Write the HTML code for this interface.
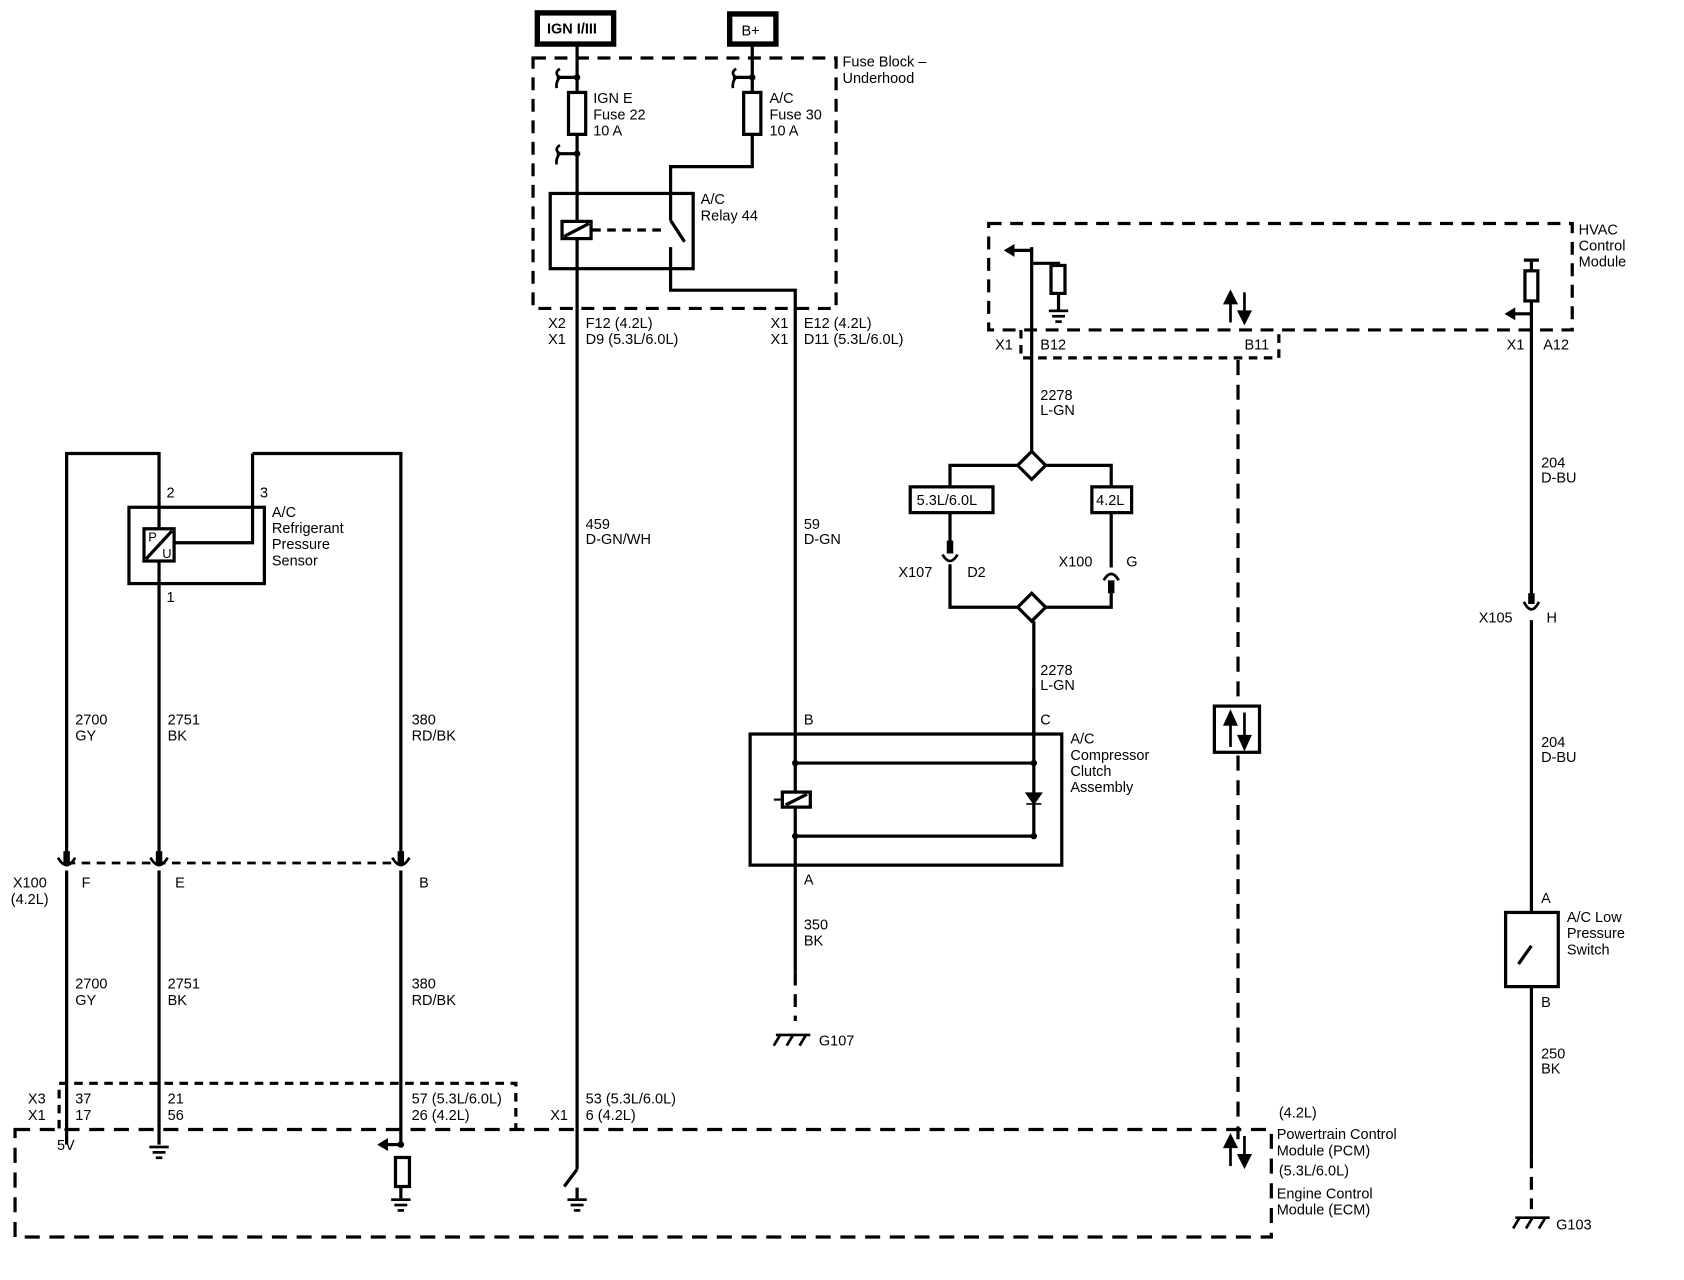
<!DOCTYPE html>
<html><head><meta charset="utf-8"><style>
html,body{margin:0;padding:0;background:#fff;}
svg{display:block}
text{font-family:"Liberation Sans",Arial,sans-serif;font-size:13.5px;fill:#000;}
</style></head><body>
<svg width="1684" height="1280" viewBox="0 0 1567 1191" preserveAspectRatio="none" xmlns="http://www.w3.org/2000/svg">
<g fill="none" stroke="#000" stroke-width="3">
<rect x="500" y="12" width="71" height="29" stroke-width="5"/>
<rect x="679" y="13" width="43" height="28" stroke-width="5"/>
<rect x="496" y="54" width="282" height="233" stroke-dasharray="12,8"/>
<line x1="537" y1="41" x2="537" y2="1088"/>
<rect x="529" y="86" width="16" height="39" fill="#fff"/>
<path d="M518 72H537M518 143H537" />
<path d="M521 64q-6 4 0 8q-4 4 -3 10M521 135q-6 4 0 8q-4 4 -3 10" stroke-width="2.5"/>
<path d="M700 41V155H624V205"/>
<rect x="692" y="86" width="16" height="39" fill="#fff"/>
<path d="M682 72H700"/>
<path d="M685 64q-6 4 0 8q-4 4 -3 10" stroke-width="2.5"/>
<rect x="512" y="180" width="133" height="70"/>
<rect x="523" y="206" width="27" height="16" fill="#fff"/>
<line x1="525" y1="220" x2="548" y2="208"/>
<line x1="551" y1="214" x2="620" y2="214" stroke-dasharray="8,6"/>
<line x1="624" y1="205" x2="637" y2="225"/>
<path d="M624 230V270H740V905"/>
<line x1="740" y1="905" x2="740" y2="950" stroke-dasharray="12,8"/>
<rect x="698" y="683" width="290" height="122"/>
<path d="M740 710H962M962 640V778H740"/>
<rect x="728" y="737" width="26" height="14" fill="#fff"/>
<line x1="731" y1="749" x2="751" y2="739"/>
<line x1="720" y1="744" x2="727" y2="744" stroke-width="2"/>
<path d="M955 748H969M955 738H969L962 748Z" fill="#000" stroke-width="1.5"/>
<rect x="920" y="208" width="543" height="99" stroke-dasharray="12,8"/>
<path d="M950 307V333H1190V307" stroke-dasharray="8,6"/>
<line x1="960" y1="230" x2="960" y2="420"/>
<path d="M960 245H985V248"/>
<rect x="978" y="247" width="13" height="26" fill="#fff"/>
<line x1="985" y1="273" x2="985" y2="288"/>
<path d="M960 233H942"/>
<line x1="1152" y1="335" x2="1152" y2="1060" stroke-dasharray="14,9"/>
<rect x="1130" y="657" width="42" height="43" fill="#fff"/>
<path d="M884 455V433H947M973 433H1034V455"/>
<path d="M960 420L973 433L960 446L947 433Z" fill="#fff"/>
<rect x="847" y="453" width="77" height="24" fill="#fff"/>
<rect x="1016" y="453" width="37" height="24" fill="#fff"/>
<path d="M884 477V510M884 525V565H947M973 565H1034V543M1034 477V528"/>
<path d="M960 552L973 565L960 578L947 565Z" fill="#fff"/>
<line x1="962" y1="578" x2="962" y2="683"/>
<path d="M1418 242H1432M1425 242V252"/>
<rect x="1419" y="252" width="12" height="28" fill="#fff"/>
<path d="M1425 280V560M1425 577V849M1425 918V1075"/>
<path d="M1425 292H1408"/>
<line x1="1425" y1="1075" x2="1425" y2="1125" stroke-dasharray="12,8"/>
<rect x="1401" y="849" width="49" height="69"/>
<line x1="1425" y1="880" x2="1413" y2="897"/>
<rect x="120" y="472" width="126" height="71"/>
<path d="M62 795V422H148V493M148 521V795M148 810V1065M62 810V1065"/>
<path d="M235 422H373V795M373 810V1065"/>
<path d="M235 422V505H162"/>
<rect x="134" y="492" width="28" height="30" fill="#fff"/>
<line x1="136" y1="520" x2="160" y2="494"/>
<line x1="62" y1="803" x2="373" y2="803" stroke-dasharray="8,6" stroke-width="2.5"/>
<rect x="14" y="1051" width="1169" height="100" stroke-dasharray="14,9"/>
<path d="M55 1050V1008H480V1050" stroke-dasharray="8,6"/>
<path d="M373 1065H360"/>
<rect x="368" y="1077" width="13" height="27" fill="#fff"/>
<path d="M373 1104V1115M537 1088L525 1104M537 1105V1115"/>
</g>
<g fill="#000" stroke="none">
<circle cx="537" cy="72" r="3"/><circle cx="537" cy="143" r="3"/><circle cx="700" cy="72" r="3"/>
<circle cx="740" cy="710" r="3"/><circle cx="962" cy="710" r="3"/><circle cx="740" cy="778" r="3"/><circle cx="962" cy="778" r="3"/>
<circle cx="373" cy="1065" r="3"/>
<path d="M934 233L944 227V239Z"/><path d="M1400 292L1410 286V298Z"/><path d="M351 1065L361 1059V1071Z"/>
<rect x="976" y="288" width="18" height="2.5"/><rect x="979" y="293" width="12" height="2.5"/><rect x="982" y="298" width="6" height="2.5"/>
<rect x="139" y="1066" width="18" height="2.5"/><rect x="142" y="1071" width="12" height="2.5"/><rect x="145" y="1076" width="6" height="2.5"/>
<rect x="364" y="1115" width="18" height="2.5"/><rect x="367" y="1120" width="12" height="2.5"/><rect x="370" y="1125" width="6" height="2.5"/>
<rect x="528" y="1115" width="18" height="2.5"/><rect x="531" y="1120" width="12" height="2.5"/><rect x="534" y="1125" width="6" height="2.5"/>
</g>
<g fill="none" stroke="#000" stroke-width="2.5">
<path d="M54 798q8 14 16 0M140 798q8 14 16 0M365 798q8 14 16 0"/>
<path d="M877 516q7 12 14 0"/><path d="M1027 540q7 -12 14 0"/>
<path d="M1418 560q7 14 14 0"/>
</g>
<g fill="#000">
<rect x="59" y="792" width="6" height="12"/><rect x="145" y="792" width="6" height="12"/><rect x="370" y="792" width="6" height="12"/>
<rect x="881" y="503" width="6" height="12"/><rect x="1031" y="540" width="6" height="12"/>
<rect x="1422" y="552" width="6" height="10"/>
</g>
<g stroke="#000" stroke-width="2.5" fill="#000">
<path d="M1145 300V278" /><path d="M1140 282L1145 272L1150 282Z"/>
<path d="M1158 272V292"/><path d="M1153 290L1158 300L1163 290Z"/>
<path d="M1145 695V670"/><path d="M1140 674L1145 663L1150 674Z"/>
<path d="M1158 663V688"/><path d="M1153 685L1158 696L1163 685Z"/>
<path d="M1145 1085V1063"/><path d="M1140 1067L1145 1057L1150 1067Z"/>
<path d="M1158 1057V1077"/><path d="M1153 1075L1158 1085L1163 1075Z"/>
</g>
<g stroke="#000" stroke-width="2.5" fill="none">
<path d="M722 963H754M726 963L720 973M738 963L732 973M750 963L744 973"/>
<path d="M1410 1133H1442M1414 1133L1408 1143M1426 1133L1420 1143M1438 1133L1432 1143"/>
</g>
<g>
<text x="509" y="31" style="font-weight:bold">IGN I/III</text>
<text x="690" y="33">B+</text>
<text x="784" y="62">Fuse Block –</text><text x="784" y="77">Underhood</text>
<text x="552" y="96">IGN E</text><text x="552" y="111">Fuse 22</text><text x="552" y="126">10 A</text>
<text x="716" y="96">A/C</text><text x="716" y="111">Fuse 30</text><text x="716" y="126">10 A</text>
<text x="652" y="190">A/C</text><text x="652" y="205">Relay 44</text>
<text x="510" y="305">X2</text><text x="510" y="320">X1</text><text x="545" y="305">F12 (4.2L)</text><text x="545" y="320">D9 (5.3L/6.0L)</text>
<text x="717" y="305">X1</text><text x="717" y="320">X1</text><text x="748" y="305">E12 (4.2L)</text><text x="748" y="320">D11 (5.3L/6.0L)</text>
<text x="545" y="492">459</text><text x="545" y="506">D-GN/WH</text>
<text x="748" y="492">59</text><text x="748" y="506">D-GN</text>
<text x="748" y="674">B</text><text x="968" y="674">C</text>
<text x="996" y="692">A/C</text><text x="996" y="707">Compressor</text><text x="996" y="722">Clutch</text><text x="996" y="737">Assembly</text>
<text x="748" y="823">A</text><text x="748" y="865">350</text><text x="748" y="880">BK</text>
<text x="762" y="973">G107</text>
<text x="1469" y="218">HVAC</text><text x="1469" y="233">Control</text><text x="1469" y="248">Module</text>
<text x="926" y="325">X1</text><text x="968" y="325">B12</text><text x="1158" y="325">B11</text>
<text x="1402" y="325">X1</text><text x="1436" y="325">A12</text>
<text x="968" y="372">2278</text><text x="968" y="386">L-GN</text>
<text x="853" y="470">5.3L/6.0L</text><text x="1020" y="470">4.2L</text>
<text x="836" y="537">X107</text><text x="900" y="537">D2</text>
<text x="985" y="527">X100</text><text x="1048" y="527">G</text>
<text x="968" y="628">2278</text><text x="968" y="642">L-GN</text>
<text x="1434" y="435">204</text><text x="1434" y="449">D-BU</text>
<text x="1376" y="579">X105</text><text x="1439" y="579">H</text>
<text x="1434" y="695">204</text><text x="1434" y="709">D-BU</text>
<text x="1434" y="840">A</text><text x="1458" y="858">A/C Low</text><text x="1458" y="873">Pressure</text><text x="1458" y="888">Switch</text>
<text x="1434" y="937">B</text><text x="1434" y="985">250</text><text x="1434" y="999">BK</text>
<text x="1448" y="1144">G103</text>
<text x="155" y="463">2</text><text x="242" y="463">3</text><text x="155" y="560">1</text>
<text x="138" y="504" style="font-size:12px">P</text><text x="151" y="519" style="font-size:12px">U</text>
<text x="253" y="481">A/C</text><text x="253" y="496">Refrigerant</text><text x="253" y="511">Pressure</text><text x="253" y="526">Sensor</text>
<text x="70" y="674">2700</text><text x="70" y="689">GY</text><text x="156" y="674">2751</text><text x="156" y="689">BK</text><text x="383" y="674">380</text><text x="383" y="689">RD/BK</text>
<text x="12" y="826">X100</text><text x="10" y="841">(4.2L)</text><text x="76" y="826">F</text><text x="163" y="826">E</text><text x="390" y="826">B</text>
<text x="70" y="920">2700</text><text x="70" y="935">GY</text><text x="156" y="920">2751</text><text x="156" y="935">BK</text><text x="383" y="920">380</text><text x="383" y="935">RD/BK</text>
<text x="26" y="1027">X3</text><text x="26" y="1042">X1</text><text x="70" y="1027">37</text><text x="70" y="1042">17</text>
<text x="156" y="1027">21</text><text x="156" y="1042">56</text>
<text x="383" y="1027">57 (5.3L/6.0L)</text><text x="383" y="1042">26 (4.2L)</text>
<text x="512" y="1042">X1</text><text x="545" y="1027">53 (5.3L/6.0L)</text><text x="545" y="1042">6 (4.2L)</text>
<text x="53" y="1070">5V</text>
<text x="1190" y="1040">(4.2L)</text><text x="1188" y="1060">Powertrain Control</text><text x="1188" y="1075">Module (PCM)</text>
<text x="1190" y="1094">(5.3L/6.0L)</text><text x="1188" y="1115">Engine Control</text><text x="1188" y="1130">Module (ECM)</text>
</g>
</svg>
</body></html>
